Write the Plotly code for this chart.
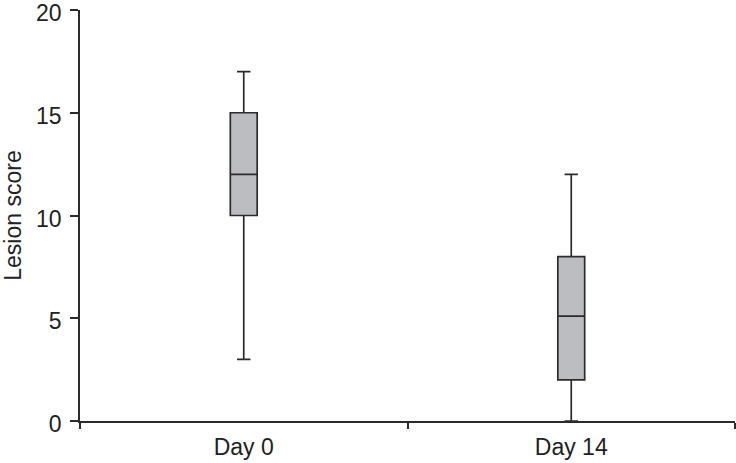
import plotly.graph_objects as go

categories = ["Day 0", "Day 14"]
lower_whisker = [3, 0]
q1 = [10, 2]
median = [12, 5.1]
q3 = [15, 8]
upper_whisker = [17, 12]
y_ticks = [0, 5, 10, 15, 20]

line_col = "#2b2b2b"
fig = go.Figure()
fig.add_trace(go.Box(
    x=categories,
    q1=q1, median=median, q3=q3,
    lowerfence=lower_whisker, upperfence=upper_whisker,
    fillcolor="#bcbdc1",
    line=dict(color=line_col, width=1.7),
    width=0.082,
    whiskerwidth=0.5,
    boxpoints=False,
    hoverinfo="skip",
    showlegend=False,
))

font = dict(family="Liberation Sans, Arial, sans-serif", size=23, color="#222222")
fig.update_layout(
    width=736, height=463,
    margin=dict(l=80, r=1, t=10, b=41.5, autoexpand=False),
    plot_bgcolor="white", paper_bgcolor="white",
    font=font,
    xaxis=dict(
        type="category", range=[-0.5, 1.5], automargin=False,
        tickson="boundaries", ticks="outside", ticklen=6, tickwidth=1.5,
        tickcolor=line_col, showline=True, linecolor=line_col, linewidth=1.5,
        showgrid=False, zeroline=False, tickfont=font, ticklabeloverflow="allow",
        ticklabelstandoff=5,
    ),
    yaxis=dict(
        range=[0, 20], tickvals=y_ticks, ticktext=[str(v) for v in y_ticks],
        ticks="outside", ticklen=8, tickwidth=1.5, automargin=False,
        tickcolor=line_col, showline=True, linecolor=line_col, linewidth=1.5,
        showgrid=False, zeroline=False, tickfont=font, ticklabeloverflow="allow",
        ticklabelstandoff=4, ticklabelshift=3,
        title=dict(text="Lesion score", font=font, standoff=11),
    ),
)
fig.write_html(
    "out.html",
    config={"displayModeBar": False},
    post_script="document.body.style.margin='0';document.body.style.padding='0';",
)
